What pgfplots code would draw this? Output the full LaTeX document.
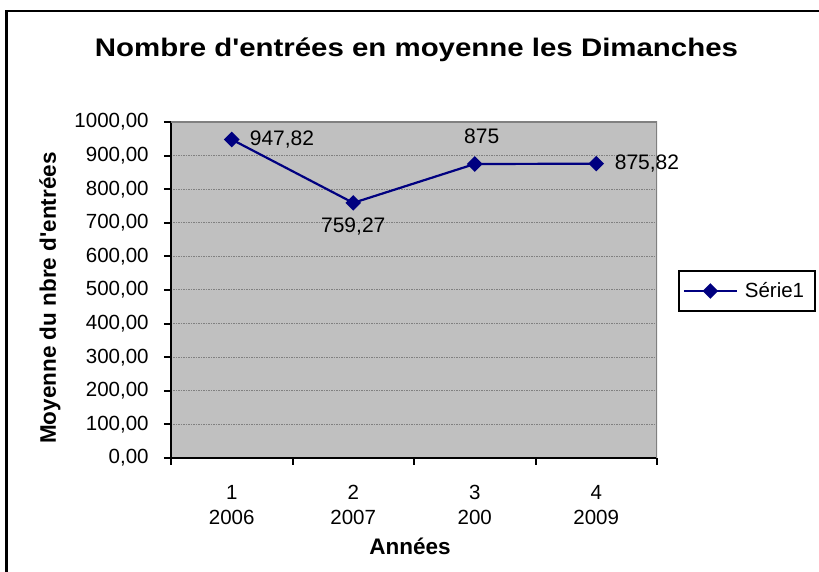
\documentclass[border=0pt]{standalone}
\usepackage{pgfplots}
\pgfplotsset{compat=1.18}
\usepackage{fontspec}
\setmainfont{Liberation Sans}[Ligatures=TeXOff]
\usepackage{graphicx}
\definecolor{plotgray}{HTML}{C0C0C0}
\definecolor{navyline}{HTML}{000080}
\definecolor{gridgray}{HTML}{808080}

\begin{document}
\begin{tikzpicture}
\useasboundingbox (0,0) rectangle (409.5pt,286pt);
\draw[line width=1.15pt] (3.3pt,-2pt) -- (3.3pt,280.5pt) -- (412pt,280.5pt);
\node[anchor=base, inner sep=0pt] at (208.25pt,257.5pt) {\resizebox{321.5pt}{\height}{\fontsize{12.7}{15}\selectfont\bfseries Nombre d'entrées en moyenne les Dimanches}};
\begin{axis}[
  at={(85.5pt,57pt)}, anchor=south west,
  scale only axis, width=243pt, height=168pt,
  xmin=0.5, xmax=4.5, ymin=0, ymax=1000,
  axis background/.style={fill=plotgray},
  axis lines*=left,
  axis line style={black, line width=1pt, -},
  xtick={0.5,1.5,2.5,3.5,4.5}, xticklabels={,,,,,},
  extra x ticks={1,2,3,4},
  extra x tick labels={{1\\2006},{2\\2007},{3\\200},{4\\2009}},
  extra x tick style={major tick length=0pt, grid=none},
  x tick label style={align=center, font=\fontsize{10.25}{12.5}\selectfont, yshift=-10pt},
  ytick={0,100,...,1000},
  ymajorgrids,
  major grid style={gridgray, line width=0.5pt, dash pattern=on 0.75pt off 0.5pt},
  tick align=outside, major tick length=3.5pt,
  tick style={black, line width=1pt},
  /pgf/number format/assume math mode=true,
  y tick label style={font=\fontsize{10.25}{12}\selectfont, inner sep=0pt, xshift=-7.5pt,
    /pgf/number format/.cd, fixed, fixed zerofill, precision=2, use comma, 1000 sep={}},
  ylabel={Moyenne du nbre d'entrées},
  ylabel style={at={(rel axis cs:-0.249,0.476)}, anchor=center, font=\fontsize{11.25}{13.5}\selectfont\bfseries},
  xlabel={Années},
  xlabel style={at={(rel axis cs:0.492,-0.287)}, anchor=base, font=\fontsize{11.25}{13.5}\selectfont\bfseries},
  legend style={at={(1.043,0.497)}, anchor=west, draw=black, line width=0.8pt,
    font=\fontsize{10.25}{12}\selectfont, inner xsep=2pt, inner ysep=2.5pt,
    nodes={inner xsep=3.5pt, inner ysep=3pt}},
  legend image code/.code={\draw[mark repeat=2,mark phase=2,#1] plot coordinates {(0pt,0pt) (13.25pt,0pt) (26.5pt,0pt)};},
]
\addplot[navyline, line width=1.1pt, mark=square*, mark size=2.2pt, mark options={rotate=45, solid},
  nodes near coords, point meta=explicit symbolic,
  visualization depends on={value \thisrow{anc}\as\myanc},
  visualization depends on={\thisrow{dx}\as\mydx},
  visualization depends on={\thisrow{dy}\as\mydy},
  every node near coord/.append style={anchor=\myanc, xshift=\mydx pt, yshift=\mydy pt, inner sep=0pt, black, font=\fontsize{10.5}{12}\selectfont}]
  table[x=x, y=y, meta=label] {
x y label anc dx dy
1 947.82 947,82 west 8.5 0
2 759.27 759,27 north 0 -7
3 875 875 south 3.5 9.5
4 875.82 875,82 west 8.75 0
};
\addlegendentry{Série1}
\draw[gridgray, line width=1pt] (rel axis cs:0,1) -- (rel axis cs:1,1) -- (rel axis cs:1,0);
\end{axis}
\end{tikzpicture}
\end{document}
